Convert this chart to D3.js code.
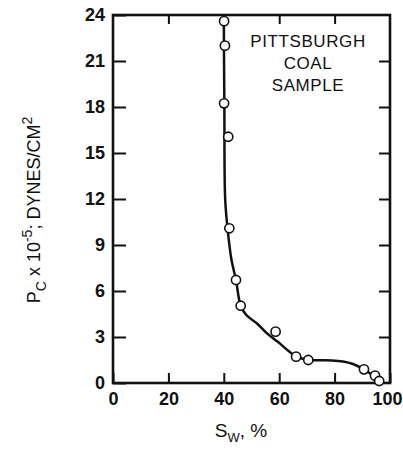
<!DOCTYPE html>
<html>
<head>
<meta charset="utf-8">
<script src="https://cdn.jsdelivr.net/npm/d3@7"></script>
<style>
  body { margin: 0; background: #fff; }
  text { font-family: "Liberation Sans Narrow", "Arial Narrow", sans-serif; fill: #111; }
</style>
</head>
<body>
<div id="chart"></div>
<script>
// measured points (Sw %, Pc x 10^-5 dynes/cm2)
const swPoints = [40.1, 40.4, 40.1, 41.6, 42.0, 44.4, 46.1, 58.7, 66.1, 70.5, 90.6, 94.6, 96.1]
const pcPoints = [23.6, 22.0, 18.24, 16.06, 10.09, 6.72, 5.04, 3.35, 1.72, 1.5, 0.89, 0.48, 0.13]

// hand drawn curve through the data
const swCurve = [40.0, 40.2, 40.5, 41.4, 42.8, 44.4, 46.1, 48.3, 51.9, 55.5, 59.6, 66, 70.5, 75, 79, 83, 86.6, 90.6, 94, 96.4]
const pcCurve = [24, 18, 12, 10, 8, 6.72, 5.04, 4.4, 3.9, 3.25, 2.67, 1.75, 1.5, 1.48, 1.47, 1.4, 1.24, 0.89, 0.45, 0]

const xTicks = [0, 20, 40, 60, 80, 100]
const yTicks = [0, 3, 6, 9, 12, 15, 18, 21, 24]
const noteLines = ["PITTSBURGH", "COAL", "SAMPLE"]

const width = 403, height = 450
const margin = {top: 15, right: 13, bottom: 67, left: 113}

const svg = d3.select("#chart").append("svg")
  .attr("width", width)
  .attr("height", height)

const x = d3.scaleLinear().domain([0, 100]).range([margin.left, width - margin.right])
const y = d3.scaleLinear().domain([0, 24]).range([height - margin.bottom, margin.top])

// axes, ticks pointing inward
const leftAxis = svg.append("g")
  .attr("transform", `translate(${margin.left},0)`)
  .call(d3.axisLeft(y).tickValues(yTicks).tickSizeInner(-13).tickSizeOuter(0).tickPadding(8))
const bottomAxis = svg.append("g")
  .attr("transform", `translate(0,${height - margin.bottom})`)
  .call(d3.axisBottom(x).tickValues(xTicks).tickSizeInner(-10).tickSizeOuter(0).tickPadding(9))
const rightAxis = svg.append("g")
  .attr("transform", `translate(${width - margin.right},0)`)
  .call(d3.axisRight(y).tickValues(yTicks.slice(1, -1)).tickSizeInner(-11).tickSizeOuter(0).tickFormat(""))
const topAxis = svg.append("g")
  .attr("transform", `translate(0,${margin.top})`)
  .call(d3.axisTop(x).tickValues(xTicks.slice(1, -1)).tickSizeInner(-9).tickSizeOuter(0).tickFormat(""))

;[leftAxis, bottomAxis, rightAxis, topAxis].forEach(g => {
  g.select(".domain").remove()
  g.selectAll(".tick line").attr("stroke", "#111").attr("stroke-width", 2)
  g.selectAll(".tick text")
    .style("font-size", "18px")
    .style("font-weight", "bold")
    .attr("fill", "#111")
})
// keep "100" inside the page
bottomAxis.selectAll(".tick text").filter(d => d === 100).attr("dx", -3)

// frame
svg.append("rect")
  .attr("x", x(0))
  .attr("y", y(24))
  .attr("width", x(100) - x(0))
  .attr("height", y(0) - y(24))
  .attr("fill", "none")
  .attr("stroke", "#111")
  .attr("stroke-width", 2.6)

// curve
const line = d3.line()
  .x(d => x(d[0]))
  .y(d => y(d[1]))
  .curve(d3.curveCatmullRom.alpha(0.5))

svg.append("path")
  .datum(d3.zip(swCurve, pcCurve))
  .attr("d", line)
  .attr("fill", "none")
  .attr("stroke", "#111")
  .attr("stroke-width", 2.5)

// open circles
svg.append("g").selectAll("circle")
  .data(d3.zip(swPoints, pcPoints))
  .join("circle")
  .attr("cx", d => x(d[0]))
  .attr("cy", d => y(d[1]))
  .attr("r", 4.6)
  .attr("fill", "#fff")
  .attr("stroke", "#111")
  .attr("stroke-width", 1.6)

// note
svg.append("g").selectAll("text")
  .data(noteLines)
  .join("text")
  .attr("x", 308)
  .attr("y", (d, i) => 47 + i * 22)
  .attr("text-anchor", "middle")
  .style("font-size", "17px")
  .style("letter-spacing", "0.6px")
  .text(d => d)

// x label
const xl = svg.append("text")
  .attr("x", 241)
  .attr("y", 437)
  .attr("text-anchor", "middle")
  .style("font-size", "19px")
xl.append("tspan").text("S")
xl.append("tspan").attr("dy", 5).style("font-size", "13px").text("W")
xl.append("tspan").attr("dy", -5).text(",  %")

// y label
const yl = svg.append("text")
  .attr("transform", "translate(40,210) rotate(-90)")
  .attr("text-anchor", "middle")
  .style("font-size", "18px")
yl.append("tspan").text("P")
yl.append("tspan").attr("dy", 6).style("font-size", "14px").text("C")
yl.append("tspan").attr("dy", -6).text(" x 10")
yl.append("tspan").attr("dy", -8).style("font-size", "14px").text("-5")
yl.append("tspan").attr("dy", 8).text("; DYNES/CM")
yl.append("tspan").attr("dy", -8).style("font-size", "14px").text("2")
</script>
</body>
</html>
